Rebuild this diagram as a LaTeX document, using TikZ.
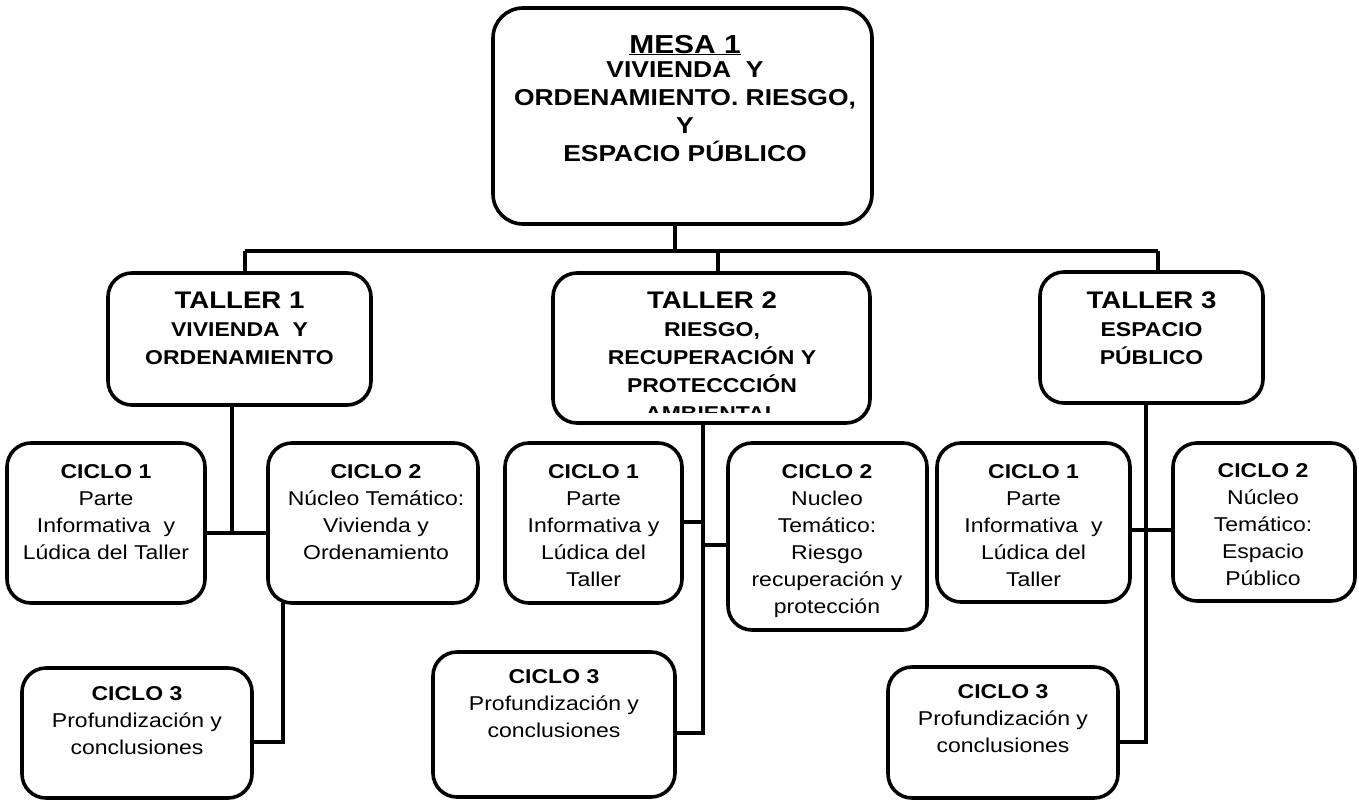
\documentclass[tikz,border=0pt]{standalone}
\usepackage{fontspec}
\setmainfont{Liberation Sans}
\begin{document}
\begin{tikzpicture}[x=1pt,y=-1pt,
  box/.style={draw=black, line width=3.6pt, rounded corners=24pt, inner sep=0pt, outer sep=0pt},
  conn/.style={draw=black, line width=3.6pt},
  txt/.style={anchor=north, align=center, inner sep=0pt, outer sep=0pt, xscale=1.15},
  ttl/.style={txt, font=\bfseries\fontsize{20}{28}\selectfont},
  body/.style={txt, font=\fontsize{20}{27}\selectfont}]
\useasboundingbox (0,0) rectangle (1359,803);
% boxes
\node[box, minimum width=379pt, minimum height=216pt, rounded corners=30pt] (m) at (682.5,116) {};
\node[box, minimum width=263pt, minimum height=132pt] (t1) at (239.5,339) {};
\node[box, minimum width=317pt, minimum height=150pt] (t2) at (711.5,348) {};
\node[box, minimum width=223pt, minimum height=131pt] (t3) at (1151.5,337.5) {};
\node[box, minimum width=198pt, minimum height=160pt] (c11) at (106,523) {};
\node[box, minimum width=210pt, minimum height=160pt] (c12) at (373,523) {};
\node[box, minimum width=230pt, minimum height=130pt] (c13) at (137,733) {};
\node[box, minimum width=177pt, minimum height=160pt] (c21) at (593.5,523) {};
\node[box, minimum width=199pt, minimum height=187pt] (c22) at (827.5,536.5) {};
\node[box, minimum width=242pt, minimum height=145pt] (c23) at (554,724.5) {};
\node[box, minimum width=193pt, minimum height=159pt] (c31) at (1033.5,522.5) {};
\node[box, minimum width=182pt, minimum height=158pt] (c32) at (1264,522) {};
\node[box, minimum width=230pt, minimum height=131pt] (c33) at (1003,732.5) {};
% texts
\node[txt, font=\bfseries\fontsize{23}{28}\selectfont] (mt) at (685,31)
  {{\fontsize{26}{28}\selectfont\rule{0pt}{22pt}\underline{MESA 1}}\\[-4pt]
   VIVIENDA~ Y\\ ORDENAMIENTO. RIESGO,\\ Y\\ ESPACIO PÚBLICO};
\node[ttl] (t1t) at (239.5,286)
  {{\fontsize{24}{28}\selectfont\rule{0pt}{22pt}TALLER 1}\\ VIVIENDA~ Y\\ ORDENAMIENTO};
\begin{scope}
\clip (553,273) rectangle (870,412);
\node[ttl] (t2t) at (712,286)
  {{\fontsize{24}{28}\selectfont\rule{0pt}{22pt}TALLER 2}\\ RIESGO,\\ RECUPERACIÓN Y\\ PROTECCCIÓN\\ AMBIENTAL};
\end{scope}
\node[ttl] (t3t) at (1151.5,286)
  {{\fontsize{24}{28}\selectfont\rule{0pt}{22pt}TALLER 3}\\ ESPACIO\\ PÚBLICO};
\node[body] (c11t) at (106,460)
  {{\bfseries\rule{0pt}{18pt}CICLO 1}\\ Parte\\ Informativa~ y\\ Lúdica del Taller};
\node[body] (c12t) at (376,460)
  {{\bfseries\rule{0pt}{18pt}CICLO 2}\\ Núcleo Temático:\\ Vivienda y\\ Ordenamiento};
\node[body] (c13t) at (137,682)
  {{\bfseries\rule{0pt}{18pt}CICLO 3}\\ Profundización y\\ conclusiones};
\node[body] (c21t) at (593.5,460)
  {{\bfseries\rule{0pt}{18pt}CICLO 1}\\ Parte\\ Informativa y\\ Lúdica del\\ Taller};
\node[body] (c22t) at (827,460)
  {{\bfseries\rule{0pt}{18pt}CICLO 2}\\ Nucleo\\ Temático:\\ Riesgo\\ recuperación y\\ protección};
\node[body] (c23t) at (554,665)
  {{\bfseries\rule{0pt}{18pt}CICLO 3}\\ Profundización y\\ conclusiones};
\node[body] (c31t) at (1033.5,460)
  {{\bfseries\rule{0pt}{18pt}CICLO 1}\\ Parte\\ Informativa~ y\\ Lúdica del\\ Taller};
\node[body] (c32t) at (1263,459)
  {{\bfseries\rule{0pt}{18pt}CICLO 2}\\ Núcleo\\ Temático:\\ Espacio\\ Público};
\node[body] (c33t) at (1003,680)
  {{\bfseries\rule{0pt}{18pt}CICLO 3}\\ Profundización y\\ conclusiones};
% connector coordinates
\coordinate (busL) at (245,251);
\coordinate (busR) at (1158,251);
\coordinate (mb) at (675,251);
\coordinate (t2b) at (718,251);
\coordinate (j1) at (232,533);
\coordinate (k1) at (283,742);
\coordinate (j2a) at (703,522);
\coordinate (j2b) at (703,545);
\coordinate (k2) at (703,733);
\coordinate (j3) at (1146,530);
\coordinate (k3) at (1146,742);
% connectors
\draw[conn] (busL) -- (busR);
\draw[conn] (m.south -| mb) -- (mb);
\draw[conn] (busL) -- (busL |- t1.north);
\draw[conn] (t2b) -- (t2b |- t2.north);
\draw[conn] (busR) -- (busR |- t3.north);
\draw[conn] (t1.south -| j1) -- (j1);
\draw[conn] (c11.east |- j1) -- (c12.west |- j1);
\draw[conn] (c12.south -| k1) -- (k1) -- (c13.east |- k1);
\draw[conn] (t2.south -| k2) -- (k2) -- (c23.east |- k2);
\draw[conn] (c21.east |- j2a) -- (j2a);
\draw[conn] (j2b) -- (c22.west |- j2b);
\draw[conn] (t3.south -| k3) -- (k3) -- (c33.east |- k3);
\draw[conn] (c31.east |- j3) -- (c32.west |- j3);
\end{tikzpicture}
\end{document}
